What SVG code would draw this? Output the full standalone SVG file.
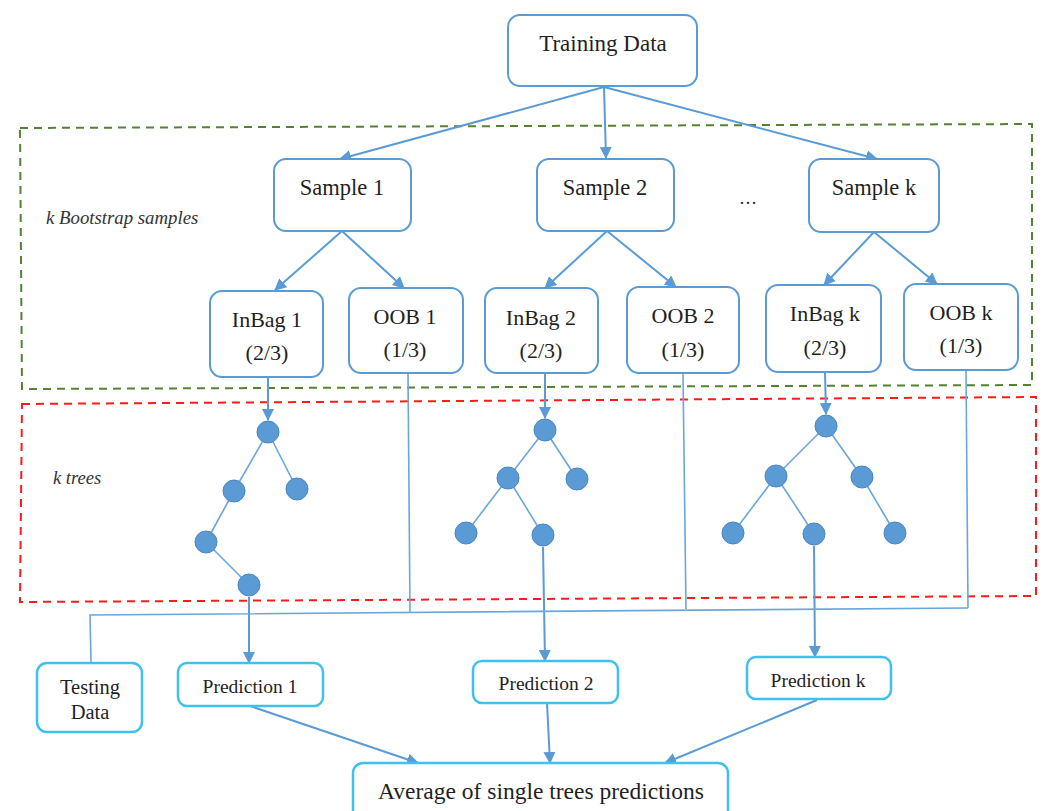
<svg xmlns="http://www.w3.org/2000/svg" width="1048" height="811" viewBox="0 0 1048 811">
<style>
.box{fill:#fff;stroke:#5b9bd5;stroke-width:2}
.pbox{fill:#fff;stroke:#3fc1f0;stroke-width:2.5}
.t{font-family:"Liberation Serif",serif;fill:#1f1f1f;text-anchor:middle}
.lab{font-family:"Liberation Serif",serif;font-style:italic;fill:#333}
.c{stroke:#5b9bd5;stroke-width:2;fill:none}
.thin{stroke:#6aa6dc;stroke-width:1.6;fill:none}
.edge{stroke:#6aa6dc;stroke-width:1.6}
.node{fill:#5b9bd5;stroke:#4a86c0;stroke-width:1}
</style>
<defs>
<marker id="ah" markerUnits="userSpaceOnUse" markerWidth="12" markerHeight="12" refX="11" refY="6" orient="auto">
<path d="M0,0 L12,6 L0,12 Z" fill="#5b9bd5"/>
</marker>
</defs>
<rect x="0" y="0" width="1048" height="811" fill="#fff"/>

<g id="regions">
<path d="M20,128 L1032,124 L1032,385 L22,389 Z" fill="none" stroke="#548235" stroke-width="2" stroke-dasharray="8,6"/>
<path d="M22,404 L1036,397 L1036,596 L20,602 Z" fill="none" stroke="#ff1a1a" stroke-width="2" stroke-dasharray="8,6"/>
<text class="lab" x="46" y="224" font-size="18.8">k Bootstrap samples</text>
<text class="lab" x="53" y="484" font-size="18.5">k trees</text>
<text class="t" x="748" y="204" font-size="18">…</text>
</g>

<g id="connectors">
<line class="c" x1="604" y1="87" x2="340" y2="159" marker-end="url(#ah)"/>
<line class="c" x1="604" y1="87" x2="606" y2="158" marker-end="url(#ah)"/>
<line class="c" x1="604" y1="87" x2="877" y2="159" marker-end="url(#ah)"/>
<line class="c" x1="342" y1="231" x2="275" y2="290" marker-end="url(#ah)"/>
<line class="c" x1="342" y1="231" x2="404" y2="288" marker-end="url(#ah)"/>
<line class="c" x1="607" y1="231" x2="545" y2="288" marker-end="url(#ah)"/>
<line class="c" x1="607" y1="231" x2="676" y2="287" marker-end="url(#ah)"/>
<line class="c" x1="874" y1="232" x2="824" y2="285" marker-end="url(#ah)"/>
<line class="c" x1="874" y1="232" x2="937" y2="284" marker-end="url(#ah)"/>
<line class="c" x1="268" y1="377" x2="268" y2="420" marker-end="url(#ah)"/>
<line class="c" x1="545" y1="373" x2="545" y2="418" marker-end="url(#ah)"/>
<line class="c" x1="825" y1="372" x2="826" y2="414" marker-end="url(#ah)"/>
<line class="c" x1="249" y1="597" x2="249" y2="663" marker-end="url(#ah)"/>
<line class="c" x1="543" y1="547" x2="545" y2="661" marker-end="url(#ah)"/>
<line class="c" x1="814" y1="546" x2="815" y2="657" marker-end="url(#ah)"/>
<line class="thin" x1="408" y1="373" x2="410" y2="612"/>
<line class="thin" x1="683" y1="373" x2="686" y2="609"/>
<line class="thin" x1="966" y1="370" x2="968" y2="608"/>
<polyline class="thin" points="91,663 90,615 968,608"/>
<line class="c" x1="250" y1="706" x2="418" y2="763" marker-end="url(#ah)"/>
<line class="c" x1="547" y1="703" x2="550" y2="763" marker-end="url(#ah)"/>
<line class="c" x1="817" y1="700" x2="665" y2="763" marker-end="url(#ah)"/>
</g>

<g id="tree1">
<line class="edge" x1="268" y1="432" x2="234" y2="491"/>
<line class="edge" x1="268" y1="432" x2="297" y2="489"/>
<line class="edge" x1="234" y1="491" x2="206" y2="542"/>
<line class="edge" x1="206" y1="542" x2="249" y2="585"/>
<circle class="node" cx="268" cy="432" r="11"/>
<circle class="node" cx="234" cy="491" r="11"/>
<circle class="node" cx="297" cy="489" r="11"/>
<circle class="node" cx="206" cy="542" r="11"/>
<circle class="node" cx="249" cy="585" r="11"/>
</g>
<g id="tree2">
<line class="edge" x1="545" y1="430" x2="508" y2="478"/>
<line class="edge" x1="545" y1="430" x2="577" y2="479"/>
<line class="edge" x1="508" y1="478" x2="466" y2="533"/>
<line class="edge" x1="508" y1="478" x2="543" y2="535"/>
<circle class="node" cx="545" cy="430" r="11"/>
<circle class="node" cx="508" cy="478" r="11"/>
<circle class="node" cx="577" cy="479" r="11"/>
<circle class="node" cx="466" cy="533" r="11"/>
<circle class="node" cx="543" cy="535" r="11"/>
</g>
<g id="treek">
<line class="edge" x1="826" y1="426" x2="776" y2="476"/>
<line class="edge" x1="826" y1="426" x2="862" y2="477"/>
<line class="edge" x1="776" y1="476" x2="733" y2="533"/>
<line class="edge" x1="776" y1="476" x2="814" y2="534"/>
<line class="edge" x1="862" y1="477" x2="895" y2="533"/>
<circle class="node" cx="826" cy="426" r="11"/>
<circle class="node" cx="776" cy="476" r="11"/>
<circle class="node" cx="862" cy="477" r="11"/>
<circle class="node" cx="733" cy="533" r="11"/>
<circle class="node" cx="814" cy="534" r="11"/>
<circle class="node" cx="895" cy="533" r="11"/>
</g>

<g id="training"><rect class="box" x="508" y="15" width="189" height="71" rx="12"/><text class="t" x="603" y="51" font-size="23">Training Data</text></g>
<g id="sample1"><rect class="box" x="274" y="159" width="137" height="72" rx="12"/><text class="t" x="342" y="195" font-size="22.5">Sample 1</text></g>
<g id="sample2"><rect class="box" x="537" y="159" width="137" height="72" rx="12"/><text class="t" x="605" y="195" font-size="22.5">Sample 2</text></g>
<g id="samplek"><rect class="box" x="809" y="159" width="130" height="73" rx="12"/><text class="t" x="874" y="195" font-size="22.5">Sample k</text></g>

<g id="inbag1"><rect class="box" x="210" y="291" width="113" height="86" rx="12"/><text class="t" x="267" y="327" font-size="22">InBag 1</text><text class="t" x="267" y="360" font-size="22">(2/3)</text></g>
<g id="oob1"><rect class="box" x="349" y="288" width="114" height="85" rx="12"/><text class="t" x="405" y="324" font-size="22">OOB 1</text><text class="t" x="405" y="357" font-size="22">(1/3)</text></g>
<g id="inbag2"><rect class="box" x="485" y="288" width="113" height="85" rx="12"/><text class="t" x="541" y="325" font-size="22">InBag 2</text><text class="t" x="541" y="358" font-size="22">(2/3)</text></g>
<g id="oob2"><rect class="box" x="627" y="287" width="112" height="86" rx="12"/><text class="t" x="683" y="323" font-size="22">OOB 2</text><text class="t" x="683" y="357" font-size="22">(1/3)</text></g>
<g id="inbagk"><rect class="box" x="766" y="285" width="115" height="87" rx="12"/><text class="t" x="825" y="321" font-size="22">InBag k</text><text class="t" x="825" y="355" font-size="22">(2/3)</text></g>
<g id="oobk"><rect class="box" x="904" y="284" width="114" height="86" rx="12"/><text class="t" x="961" y="320" font-size="22">OOB k</text><text class="t" x="961" y="353" font-size="22">(1/3)</text></g>

<g id="testing"><rect class="pbox" x="37" y="663" width="105" height="69" rx="10"/><text class="t" x="90" y="694" font-size="20.5">Testing</text><text class="t" x="90" y="719" font-size="20.5">Data</text></g>
<g id="pred1"><rect class="pbox" x="178" y="663" width="145" height="43" rx="9"/><text class="t" x="250" y="693" font-size="19.5">Prediction 1</text></g>
<g id="pred2"><rect class="pbox" x="473" y="661" width="145" height="42" rx="9"/><text class="t" x="546" y="690" font-size="19.5">Prediction 2</text></g>
<g id="predk"><rect class="pbox" x="747" y="657" width="144" height="42" rx="9"/><text class="t" x="818" y="687" font-size="19.5">Prediction k</text></g>
<g id="average"><rect class="pbox" x="353" y="763" width="375" height="60" rx="10"/><text class="t" x="541" y="799" font-size="23.5">Average of single trees predictions</text></g>
</svg>
